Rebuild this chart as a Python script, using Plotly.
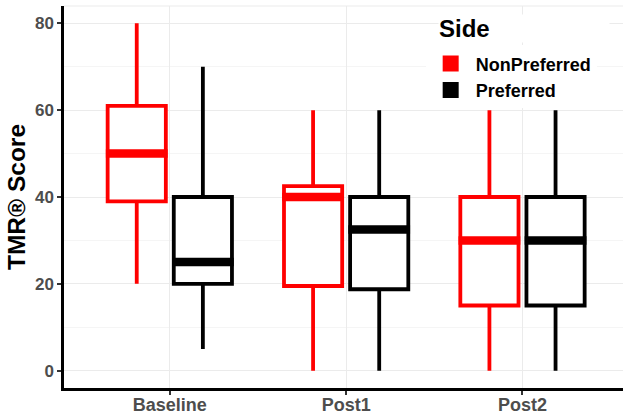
import plotly.graph_objects as go

phases = ["Baseline", "Post1", "Post2"]

np_lo = [20, 0, 0]
np_q1 = [39, 19.5, 15]
np_med = [50, 40, 30]
np_q3 = [61, 42.5, 40]
np_hi = [80, 60, 60]

p_lo = [5, 0, 0]
p_q1 = [20, 18.75, 15]
p_med = [25, 32.5, 30]
p_q3 = [40, 40, 40]
p_hi = [70, 60, 60]

series = [
    ("NonPreferred", "#FF0000", np_lo, np_q1, np_med, np_q3, np_hi, -0.1875),
    ("Preferred", "#000000", p_lo, p_q1, p_med, p_q3, p_hi, 0.1875),
]

BOX_W = 0.33
FONT = "Liberation Sans, Arial, sans-serif"
fig = go.Figure()

for name, color, lo, q1, med, q3, hi, off in series:
    xs = [i + off for i in range(len(phases))]
    fig.add_trace(go.Box(
        name=name, x=xs, q1=q1, median=med, q3=q3,
        lowerfence=lo, upperfence=hi,
        width=BOX_W, whiskerwidth=0,
        fillcolor="white",
        line=dict(color=color, width=3.8),
        boxpoints=False, hoverinfo="skip", showlegend=False,
    ))

for name, color, lo, q1, med, q3, hi, off in series:
    mx, my = [], []
    for i, m in enumerate(med):
        c = i + off
        mx += [c - BOX_W / 2 - 0.01, c + BOX_W / 2 + 0.01, None]
        my += [m, m, None]
    fig.add_trace(go.Scatter(
        x=mx, y=my, mode="lines", line=dict(color=color, width=8.5),
        showlegend=False, hoverinfo="skip",
    ))

# legend keys
for name, color, *_ in series:
    fig.add_trace(go.Scatter(
        x=[None], y=[None], mode="markers", name="<b>%s</b>" % name,
        marker=dict(symbol="square", size=17, color=color, line=dict(width=0)),
        hoverinfo="skip",
    ))

fig.update_layout(
    width=623, height=414,
    margin=dict(l=64, r=0, t=6, b=26, autoexpand=False),
    plot_bgcolor="white", paper_bgcolor="white",
    font=dict(family=FONT),
    showlegend=True,
    legend=dict(
        font=dict(size=18, color="black", family=FONT),
        x=0.647, xanchor="left", y=0.897, yanchor="top",
        bgcolor="white", tracegroupgap=0, itemsizing="trace", itemwidth=40,
    ),
    xaxis=dict(
        range=[-0.6, 2.57], automargin=False,
        tickmode="array", tickvals=list(range(len(phases))),
        ticktext=["<b>%s</b>" % p for p in phases],
        tickfont=dict(size=18, color="#4D4D4D"),
        showgrid=True, gridcolor="#EBEBEB", gridwidth=1,
        showline=True, linecolor="black", linewidth=2.5,
        ticks="outside", ticklen=4, tickwidth=2, tickcolor="#333333",
        ticklabelstandoff=-5,
        zeroline=False,
    ),
    yaxis=dict(
        range=[-4, 84], automargin=False,
        tickmode="array", tickvals=[0, 20, 40, 60, 80],
        ticktext=["<b>%d</b>" % v for v in [0, 20, 40, 60, 80]],
        tickfont=dict(size=17, color="#4D4D4D"),
        showgrid=True, gridcolor="#EBEBEB", gridwidth=1,
        minor=dict(tickvals=[10, 30, 50, 70], showgrid=True, gridcolor="#F5F5F5", gridwidth=1),
        showline=True, linecolor="black", linewidth=2.5,
        ticks="outside", ticklen=4, tickwidth=2, tickcolor="#333333",
        zeroline=False,
        title=dict(text="<b>TMR® Score</b>", font=dict(size=24.5, color="black"), standoff=3),
    ),
    annotations=[dict(
        text="<b>Side</b>", xref="paper", yref="paper",
        x=0.669, y=0.94, xanchor="left", yanchor="middle",
        width=170, align="left", showarrow=False, bgcolor="white", borderpad=0,
        font=dict(size=24, color="black", family=FONT),
    )],
)

fig.add_shape(type="line", xref="paper", yref="paper", x0=0, x1=1, y0=1, y1=1,
              line=dict(color="#EBEBEB", width=1), layer="below")

fig.write_html(
    "out.html",
    config={"displayModeBar": False},
    post_script="document.body.style.margin='0';document.body.style.overflow='hidden';",
)
